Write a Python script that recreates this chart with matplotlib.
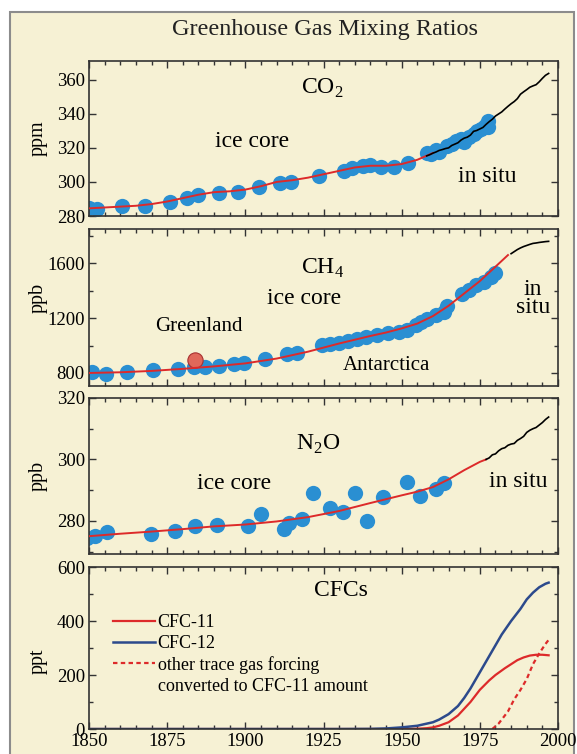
import matplotlib
matplotlib.use('Agg')
import matplotlib.pyplot as plt
from matplotlib.lines import Line2D
from matplotlib.patches import Rectangle
from matplotlib.ticker import MultipleLocator

plt.rcParams['font.family'] = ['Liberation Serif', 'DejaVu Serif']

# ---- CO2 ----
co2_ice_yr = [1850, 1852.5, 1860.5, 1868, 1876, 1881.5, 1885, 1891.5, 1897.5, 1904.5,
              1911, 1914.5, 1923.5, 1931.5, 1934, 1937.5, 1940, 1943.5, 1947.5, 1952,
              1958, 1959.5, 1961, 1962, 1964.5, 1966, 1967.5, 1969, 1970, 1971.5,
              1973, 1974, 1975.5, 1976.5, 1977.5, 1977.5]
co2_ice = [284.5, 284, 285.8, 285.8, 288, 290.5, 292.5, 293.5, 294, 297,
           299.5, 300, 303.5, 306.5, 308, 309.5, 309.8, 309, 309, 311,
           317, 316.5, 318.5, 317.5, 321, 322.5, 324, 325, 323.5, 326.5,
           328, 330, 331, 333, 335.5, 332.5]
co2_fit_yr = [1850, 1855, 1860, 1865, 1870, 1875, 1880, 1885, 1890, 1895, 1900, 1905,
              1910, 1915, 1920, 1925, 1930, 1935, 1940, 1945, 1950, 1955, 1960]
co2_fit = [284.5, 285, 285.5, 286, 287, 288.5, 290.5, 292.5, 294, 294.5, 295.5, 297.5,
           300, 301, 302.5, 304.5, 306.5, 308.5, 309.5, 309.5, 310.5, 313, 317]
co2_situ_yr = list(range(1958, 1998))
co2_situ = [315.3, 316.0, 316.9, 317.6, 318.5, 319.0, 319.6, 320.0, 321.4, 322.2,
            323.0, 324.6, 325.7, 326.3, 327.5, 329.7, 330.2, 331.1, 332.0, 333.8,
            335.4, 336.8, 338.7, 339.9, 341.1, 342.8, 344.4, 345.9, 347.2, 348.9,
            351.5, 352.9, 354.2, 355.6, 356.4, 357.1, 358.8, 360.8, 362.6, 363.7]

# ---- CH4 ----
ch4_ice_yr = [1851, 1855.3, 1862.3, 1870.6, 1878.5, 1883.5, 1887, 1891.7, 1896.4, 1899.7,
              1906.4, 1913.4, 1916.4, 1924.6, 1927, 1929.9, 1932.8, 1935.8, 1938.7, 1942.2,
              1945.7, 1949.3, 1951.6, 1954.5, 1956.3, 1958.1, 1961, 1963.4, 1964.5, 1969.2,
              1971.6, 1973.9, 1976.3, 1978.6, 1979.8]
ch4_ice = [807, 790, 807, 824, 832, 844, 844, 851, 868, 876,
           905, 942, 946, 1003, 1010, 1020, 1032, 1051, 1064, 1076,
           1088, 1100, 1112, 1149, 1173, 1190, 1222, 1247, 1288, 1376,
           1405, 1442, 1466, 1503, 1527]
greenland_yr = [1884]
greenland = [893]
ch4_fit_yr = [1850, 1860, 1870, 1880, 1890, 1900, 1910, 1920, 1930, 1940, 1945, 1950,
              1955, 1960, 1965, 1970, 1975, 1980, 1984]
ch4_fit = [800, 805, 815, 830, 848, 870, 905, 955, 1015, 1070, 1095, 1125,
           1160, 1215, 1290, 1380, 1470, 1575, 1660]
ch4_situ_yr = list(range(1985, 1998))
ch4_situ = [1670, 1685, 1700, 1712, 1722, 1730, 1738, 1745, 1748, 1752, 1755, 1758, 1760]

# ---- N2O ----
n2o_ice_yr = [1849.5, 1852, 1855.7, 1869.7, 1877.6, 1883.8, 1890.8, 1900.8, 1904.9, 1912.3,
              1914.1, 1918, 1921.7, 1927, 1931.1, 1935.2, 1938.8, 1944.1, 1951.7, 1955.8,
              1960.9, 1963.5]
n2o_ice = [274.3, 274.9, 276.5, 275.8, 276.8, 278.2, 278.7, 278.4, 282.3, 277.3,
           279.2, 280.5, 289.2, 284.1, 283, 289, 280.1, 287.7, 292.5, 288.2,
           290.3, 292.3]
n2o_fit_yr = [1850, 1860, 1870, 1880, 1890, 1900, 1910, 1920, 1930, 1940, 1950, 1955,
              1960, 1965, 1970, 1975, 1977]
n2o_fit = [275, 275.8, 276.5, 277.3, 278.2, 278.8, 279.8, 281.2, 283.2, 285.8, 288.3, 289.5,
           291, 293.5, 296.5, 299.2, 300]
n2o_situ_yr = list(range(1977, 1998))
n2o_situ = [300, 300.5, 301.5, 301.8, 302.8, 303.5, 303.8, 304.6, 305, 305.2, 306.2,
            306.8, 307.5, 308.8, 309.5, 310, 310.4, 311.2, 312, 313, 313.8]

# ---- CFCs ----
cfc12_yr = [1850, 1900, 1930, 1940, 1945, 1950, 1955, 1960, 1962, 1965, 1968, 1970, 1972,
            1975, 1978, 1980, 1982, 1985, 1988, 1990, 1992, 1994, 1996, 1997]
cfc12 = [0, 0, 0, 0.5, 2, 6, 12, 25, 35, 55, 85, 115, 150,
         210, 270, 310, 350, 400, 445, 480, 505, 525, 538, 542]
cfc11_yr = [1850, 1900, 1950, 1955, 1958, 1960, 1962, 1965, 1968, 1970, 1972, 1975, 1978,
            1980, 1983, 1985, 1987, 1989, 1991, 1993, 1995, 1997]
cfc11 = [0, 0, 0, 1, 3, 6, 12, 25, 50, 75, 100, 145, 180,
         200, 225, 240, 255, 265, 272, 275, 275, 273]
other_yr = [1979, 1981, 1984, 1986, 1988, 1990, 1992, 1994, 1996, 1997]
other = [0, 20, 65, 110, 145, 185, 240, 280, 315, 330]

cream = '#F6F1D4'
blue_dot = '#2a8fd2'
red = '#dd2a2a'
TXT = 17
LABX = -0.088

W, H = 577, 754
fig = plt.figure(figsize=(W / 100, H / 100), dpi=100)
fig.patch.set_facecolor('white')
frame = Rectangle((10 / W, -0.02), 564 / W, 1.02 - 12 / H, transform=fig.transFigure,
                  facecolor=cream, edgecolor='#8c8c8c', lw=1.5, zorder=-10)
fig.add_artist(frame)


def make_ax(top, bottom, unit):
    ax = fig.add_axes([89 / W, 1 - bottom / H, 469 / W, (bottom - top) / H])
    ax.set_facecolor(cream)
    ax.set_xlim(1850, 2000)
    ax.xaxis.set_major_locator(MultipleLocator(25))
    ax.xaxis.set_minor_locator(MultipleLocator(5))
    ax.tick_params(which='both', direction='in', top=True, right=True, labelsize=13.5,
                   width=1, color='#333333', pad=3)
    ax.tick_params(which='major', length=5)
    ax.tick_params(which='minor', length=3)
    for s in ax.spines.values():
        s.set_color('#333333')
        s.set_linewidth(1.2)
    ax.set_ylabel(unit, fontsize=14.5)
    ax.yaxis.set_label_coords(LABX, 0.5)
    return ax


fig.text(325 / W, 1 - 30 / H, 'Greenhouse Gas Mixing Ratios', ha='center', va='center',
         fontsize=17.5, color='#222222')

# CO2 panel
ax1 = make_ax(61, 216, 'ppm')
ax1.plot(co2_ice_yr, co2_ice, 'o', ms=11, color=blue_dot, mec='none', zorder=2)
ax1.plot(co2_fit_yr, co2_fit, color=red, lw=1.4, zorder=3)
ax1.plot(co2_situ_yr, co2_situ, color='black', lw=1.2, zorder=3)
ax1.set_ylim(280, 371)
ax1.yaxis.set_major_locator(MultipleLocator(20))
ax1.set_xticklabels([])
ax1.text(1924.6, 355, r'CO$_\mathregular{2}$', ha='center', va='center', fontsize=TXT)
ax1.text(1902, 324, 'ice core', ha='center', va='center', fontsize=TXT)
ax1.text(1977.5, 303, 'in situ', ha='center', va='center', fontsize=TXT)

# CH4 panel
ax2 = make_ax(229, 386, 'ppb')
ax2.yaxis.set_label_coords(LABX, 0.56)
ax2.plot(ch4_ice_yr, ch4_ice, 'o', ms=11, color=blue_dot, mec='none', zorder=2)
ax2.plot(greenland_yr, greenland, 'o', ms=11, color='#e0685a', mec='#a83030', mew=0.8, zorder=2)
ax2.plot(ch4_fit_yr, ch4_fit, color=red, lw=1.4, zorder=3)
ax2.plot(ch4_situ_yr, ch4_situ, color='black', lw=1.2, zorder=3)
ax2.set_ylim(705, 1850)
ax2.yaxis.set_minor_locator(MultipleLocator(200))
ax2.set_yticks([800, 1200, 1600])
ax2.set_xticklabels([])
ax2.text(1924.6, 1560, r'CH$_\mathregular{4}$', ha='center', va='center', fontsize=TXT)
ax2.text(1918.7, 1344, 'ice core', ha='center', va='center', fontsize=TXT)
ax2.text(1885.2, 1137, 'Greenland', ha='center', va='center', fontsize=15)
ax2.text(1945.1, 856, 'Antarctica', ha='center', va='center', fontsize=15)
ax2.text(1992, 1344, 'in\nsitu', ha='center', va='center', fontsize=TXT, linespacing=0.85)

# N2O panel
ax3 = make_ax(398, 554, 'ppb')
ax3.plot(n2o_ice_yr, n2o_ice, 'o', ms=11, color=blue_dot, mec='none', zorder=2)
ax3.plot(n2o_fit_yr, n2o_fit, color=red, lw=1.4, zorder=3)
ax3.plot(n2o_situ_yr, n2o_situ, color='black', lw=1.2, zorder=3)
ax3.set_ylim(269.2, 320)
ax3.yaxis.set_major_locator(MultipleLocator(20))
ax3.yaxis.set_minor_locator(MultipleLocator(10))
ax3.set_xticklabels([])
ax3.text(1923.4, 305, r'N$_\mathregular{2}$O', ha='center', va='center', fontsize=TXT)
ax3.text(1896.4, 292.3, 'ice core', ha='center', va='center', fontsize=TXT)
ax3.text(1987.4, 292.8, 'in situ', ha='center', va='center', fontsize=TXT)

# CFC panel
ax4 = make_ax(567, 729, 'ppt')
ax4.yaxis.set_label_coords(LABX, 0.42)
ax4.plot(cfc11_yr, cfc11, color=red, lw=1.6, label='CFC-11')
ax4.plot(cfc12_yr, cfc12, color='#2c4a8c', lw=1.8, label='CFC-12')
ax4.plot(other_yr, other, color=red, lw=1.6, ls=(0, (2, 1.5)),
         label='other trace gas forcing')
ax4.set_ylim(0, 600)
ax4.yaxis.set_major_locator(MultipleLocator(200))
ax4.yaxis.set_minor_locator(MultipleLocator(100))
ax4.text(1930.5, 512, 'CFCs', ha='center', va='center', fontsize=TXT)
handles, labels = ax4.get_legend_handles_labels()
handles.append(Line2D([], [], ls='none'))
labels.append('converted to CFC-11 amount')
ax4.legend(handles, labels, loc='upper left', bbox_to_anchor=(0.052, 0.71), frameon=False,
           fontsize=13, handlelength=2.3, handletextpad=0.15, labelspacing=0.22,
           borderaxespad=0, borderpad=0)

fig.savefig('out.png', dpi=100, facecolor='white')
